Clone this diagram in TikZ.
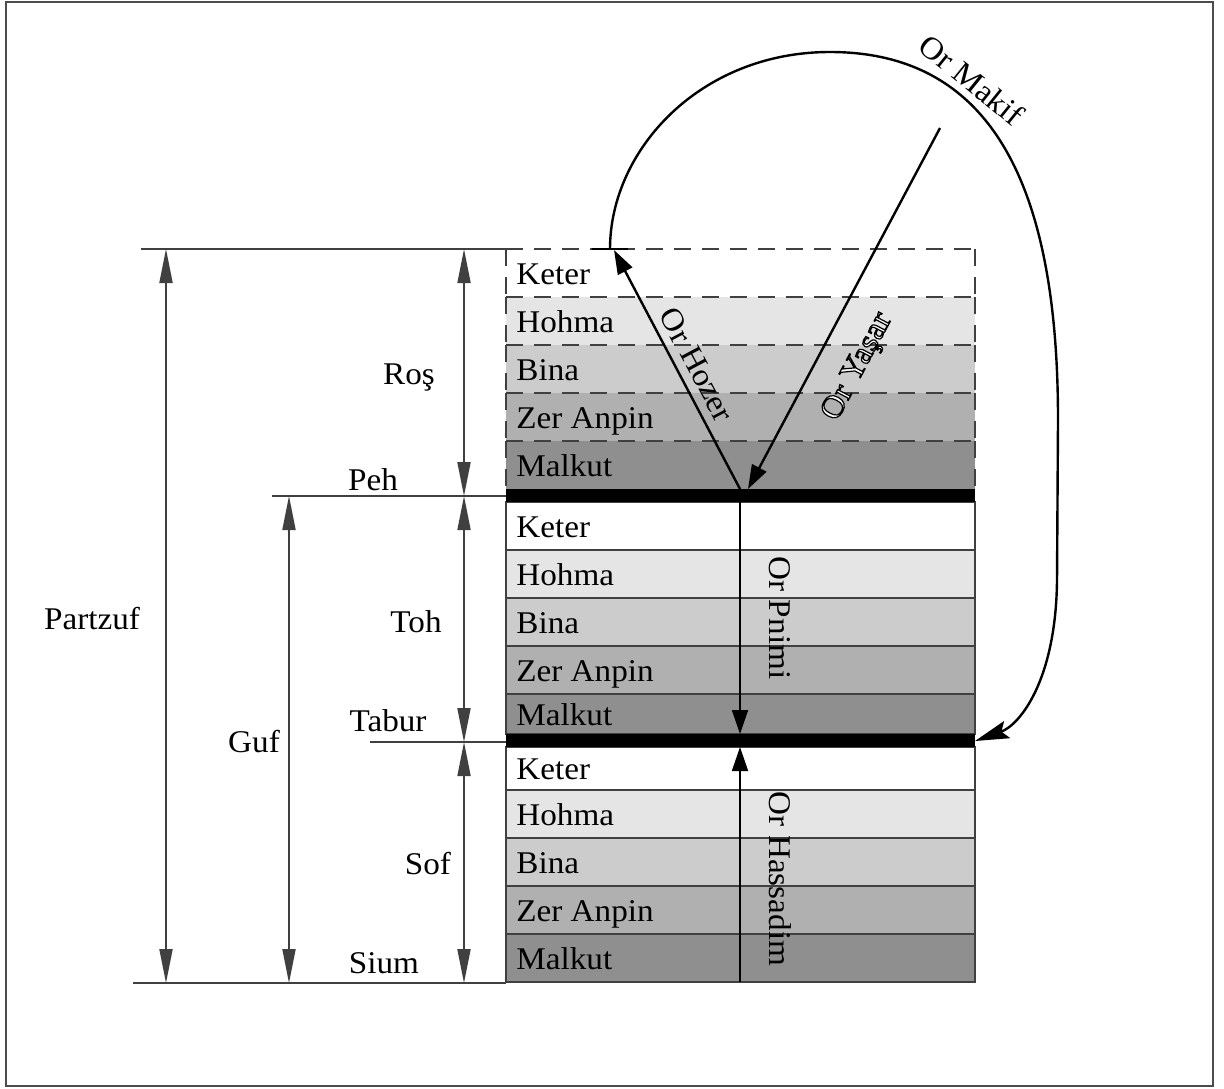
\documentclass[tikz,border=0pt]{standalone}
\usepackage{fontspec}
\setmainfont{Liberation Serif}[FakeStretch=1.05]
\usetikzlibrary{arrows.meta}
\definecolor{hohma}{gray}{0.9}
\definecolor{bina}{gray}{0.8}
\definecolor{zeranpin}{gray}{0.69}
\definecolor{malkut}{gray}{0.56}
% white letters with a black outline
\newcommand{\hollow}[1]{\special{pdf:literal direct 2 Tr 0.6 w 0 0 0 RG 1 1 1 rg}#1\special{pdf:literal direct 0 Tr 0 0 0 rg}}
\begin{document}
\begin{tikzpicture} [x = 0.5pt, y = -0.5pt, font = \fontsize{15.8}{19}\selectfont,
  dim/.style = {black!75, line width = 0.9pt},
  dimarrow/.style = {dim, {Triangle[length = 17pt, width = 6.5pt]}-{Triangle[length = 17pt, width = 6.5pt]}},
  rowline/.style = {black!75, line width = 0.9pt},
  rowdash/.style = {black!75, line width = 0.9pt, dash pattern = on 8.5pt off 5.5pt},
  rowlabel/.style = {anchor = base west, inner sep = 0pt},
  tag/.style = {anchor = base, inner sep = 0pt},
  orline/.style = {line width = 1.2pt},
  ortip/.style = {-{Triangle[length = 12pt, width = 8pt]}},
  orlabel/.style = {inner sep = 0pt}]
\useasboundingbox (0,0) rectangle (1224,1088);
\draw [black!70, line width = 1pt] (6,2) rectangle (1213,1086);
% Ros, dashed
\foreach \a/\b/\c/\t in {249/297/white/Keter, 297/345/hohma/Hohma, 345/393/bina/Bina, 393/441/zeranpin/Zer Anpin, 441/489/malkut/Malkut} {
\fill [\c] (506,\a) rectangle (975,\b);
\draw [rowdash] (506,\a) -- (975,\a);
\draw [rowdash] (506,\a) -- (506,\b);
\draw [rowdash] (975,\a) -- (975,\b);
\node [rowlabel] (ros\a) at (516,{(\a+\b)/2+11}) {\t};
}
% Toh
\foreach \a/\b/\c/\t in {502/550/white/Keter, 550/598/hohma/Hohma, 598/646/bina/Bina, 646/694/zeranpin/Zer Anpin, 694/734/malkut/Malkut} {
\draw [rowline, fill = \c] (506,\a) rectangle (975,\b);
\node [rowlabel] (toh\a) at (516,{(\a+\b)/2+11}) {\t};
}
% Sof
\foreach \a/\b/\c/\t in {747/790/white/Keter, 790/838/hohma/Hohma, 838/886/bina/Bina, 886/934/zeranpin/Zer Anpin, 934/982/malkut/Malkut} {
\draw [rowline, fill = \c] (506,\a) rectangle (975,\b);
\node [rowlabel] (sof\a) at (516,{(\a+\b)/2+11}) {\t};
}
\fill [black] (506,489) rectangle (975,502);
\fill [black] (506,734) rectangle (975,747);
% dimension lines
\coordinate (rosL) at (141,249); \coordinate (rosR) at (506,249);
\coordinate (pehL) at (272,496); \coordinate (pehR) at (506,496);
\coordinate (taburL) at (370,742); \coordinate (taburR) at (506,742);
\coordinate (siumL) at (133,983); \coordinate (siumR) at (506,983);
\coordinate (colP) at (166,0);
\coordinate (colG) at (289,0);
\coordinate (colR) at (464,0);
\draw [dim] (rosL) -- (rosR);
\draw [dim] (pehL) -- (pehR);
\draw [dim] (taburL) -- (taburR);
\draw [dim] (siumL) -- (siumR);
\draw [dimarrow] (colP |- rosL) -- (colP |- siumL);
\draw [dimarrow] (colG |- pehL) -- (colG |- siumL);
\draw [dimarrow] (colR |- rosL) -- (colR |- pehL);
\draw [dimarrow] (colR |- pehL) -- (colR |- taburL);
\draw [dimarrow] (colR |- taburL) -- (colR |- siumL);
\node [tag] (partzuf) at (92,629) {Partzuf};
\node [tag] (guf) at (254,752) {Guf};
\node [tag] (ros) at (409,384) {Roş};
\node [tag] (peh) at (373,490) {Peh};
\node [tag] (toh) at (416,632) {Toh};
\node [tag] (tabur) at (388,731) {Tabur};
\node [tag] (sof) at (428,874) {Sof};
\node [tag] (sium) at (384,973) {Sium};
% lights
\coordinate (hozerFoot) at (740,489);
\coordinate (hozerHead) at (614,250);
\coordinate (yasarStart) at (940,128);
\coordinate (yasarFoot) at (748,489);
\coordinate (pnimiTop) at (740,502);
\coordinate (pnimiEnd) at (740,734);
\coordinate (hassadimBot) at (740,982);
\coordinate (hassadimEnd) at (740,747);
\coordinate (makifStart) at (610,249);
\coordinate (makifEnd) at (975,741);
\draw [orline, ortip] (hozerFoot) -- (hozerHead);
\draw [orline, ortip] (yasarStart) -- (yasarFoot);
\draw [line width = 0.9pt, ortip] (pnimiTop) -- (pnimiEnd);
\draw [line width = 0.9pt, ortip] (hassadimBot) -- (hassadimEnd);
\draw [black, line width = 1pt] (592,249) -- (628,249);
\draw [orline, -{Stealth[length = 17pt, width = 9pt, inset = 3pt]}] (makifStart) .. controls (610,150) and (700,52) .. (830,52) .. controls (1000,52) and (1058,200) .. (1058,420) -- (1057,580) .. controls (1056,680) and (1020,725) .. (makifEnd);
\node [orlabel, rotate = -62] (hozer) at (697,365) {Or Hozer};
\node [orlabel, rotate = 62] (yasar) at (858,367) {\hollow{Or Yaşar}};
\node [orlabel, rotate = -90] (pnimi) at (780,618) {Or Pnimi};
\node [orlabel, rotate = -90] (hassadim) at (780,879) {Or Hassadim};
\node [orlabel, rotate = -39] (makif) at (972,80) {Or Makif};
\end{tikzpicture}
\end{document}
